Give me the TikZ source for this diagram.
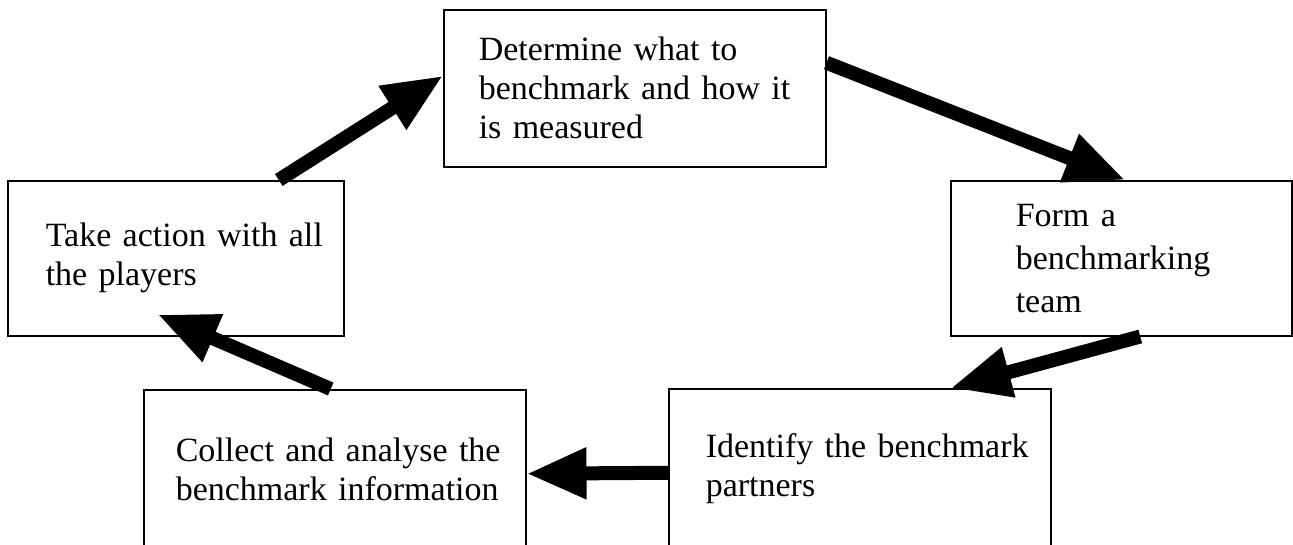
\documentclass[tikz,border=0pt]{standalone}
\usepackage{fontspec}
\setmainfont{Liberation Serif}
\usetikzlibrary{arrows.meta}
\hbadness=10000 \hfuzz=200pt
\begin{document}
\begin{tikzpicture}[x=1pt,y=-1pt,
  box/.style={draw=black, line width=1.5pt, rectangle, align=left,
    inner ysep=0pt, font=\fontsize{34}{39}\selectfont, anchor=north west},
  bigarrow/.style={line width=14pt, -{Triangle[length=60pt,width=48pt]}}]
\useasboundingbox (0,0) rectangle (1293,544);
% boxes: width = text width + 2*inner xsep
\node[box, text width=312pt, inner xsep=35pt, minimum height=157pt] (T) at (443,9)
  {\mbox{Determine what to}\\\mbox{benchmark and how it}\\\mbox{is measured}};
\node[box, text width=211pt, inner xsep=65pt, minimum height=155pt,
  font=\fontsize{34}{43}\selectfont] (R) at (950,180)
  {\mbox{Form a}\\\mbox{benchmarking}\\\mbox{team}};
\node[box, text width=260pt, inner xsep=38pt, minimum height=155pt] (L) at (7,180)
  {\mbox{Take action with all}\\\mbox{the players}};
\node[box, text width=318pt, inner xsep=32pt, minimum height=160pt] (BL) at (143,389)
  {\mbox{Collect and analyse the}\\\mbox{benchmark information}};
\node[box, text width=308pt, inner xsep=37pt, minimum height=160pt] (BR) at (668,388)
  {\mbox{Identify the benchmark}\\\mbox{partners}};
% arrows
\draw[bigarrow] ([xshift=103pt]L.north) -- ([yshift=12.5pt]T.west);
\draw[bigarrow] ([yshift=25.5pt]T.east) -- ([xshift=4pt]R.north);
\draw[bigarrow] ([xshift=19pt]R.south) -- ([xshift=91pt]BR.north);
\draw[bigarrow] ([yshift=-4pt]BR.west) -- ([yshift=-4pt]BL.east);
\draw[bigarrow] ([xshift=-4pt]BL.north) -- ([xshift=-18pt,yshift=22pt]L.south);
\end{tikzpicture}
\end{document}
